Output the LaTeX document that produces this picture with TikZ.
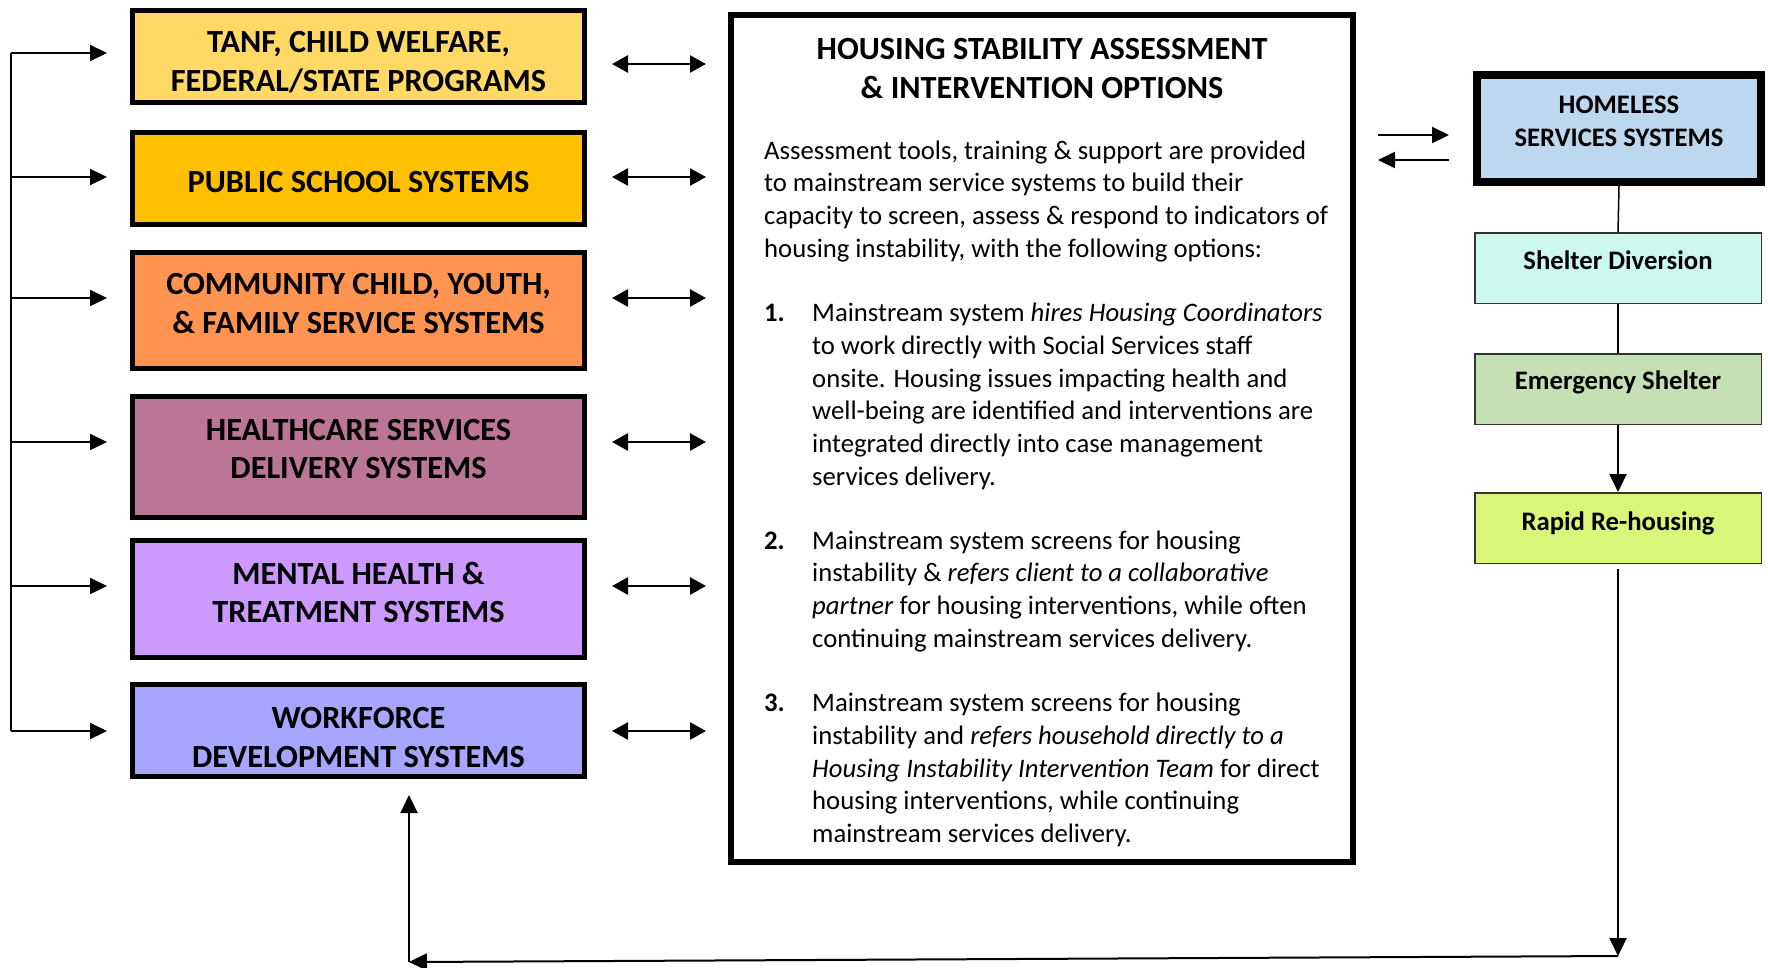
\documentclass[tikz,border=0pt]{standalone}
\usepackage{fontspec}
\setmainfont{Carlito}
\usetikzlibrary{arrows.meta,positioning}

\definecolor{tanfyellow}{HTML}{FFD966}
\definecolor{schoolgold}{HTML}{FFC000}
\definecolor{communityorange}{HTML}{FF9450}
\definecolor{healthmauve}{HTML}{BB7696}
\definecolor{mentallilac}{HTML}{CC99FF}
\definecolor{workforceblue}{HTML}{A6A6FF}
\definecolor{homelessblue}{HTML}{BDD7EE}
\definecolor{diversionmint}{HTML}{CCF8EE}
\definecolor{emergencygreen}{HTML}{C5E0B4}
\definecolor{rapidlime}{HTML}{D9F57A}

\begin{document}
\begin{tikzpicture}[x=1pt, y=-1pt,
  sysbox/.style={draw, line width=5pt, minimum width=452pt, inner sep=0pt},
  systext/.style={inner sep=0pt, align=center, font=\fontsize{32.3}{38.5}\selectfont\bfseries},
  svcbox/.style={draw=black!80, line width=1.5pt, minimum width=286.5pt, minimum height=70.5pt, inner sep=0pt},
  svctext/.style={inner sep=0pt, align=center, font=\fontsize{26.7}{32.7}\selectfont\bfseries},
  bodytext/.style={anchor=north west, inner sep=0pt, align=left, font=\fontsize{26.7}{32.7}\selectfont},
  feed/.style={line width=2.2pt, -{Triangle[length=17pt, width=16pt]}},
  link/.style={line width=2.6pt, {Triangle[length=16pt, width=17pt]}-{Triangle[length=16pt, width=17pt]}},
  flow/.style={line width=2pt, -{Triangle[length=18pt, width=17pt]}}]

  \useasboundingbox (0,0) rectangle (1768,967);

  % mainstream service systems
  \node[sysbox, fill=tanfyellow, minimum height=92pt]       (tanf)      at (358.5, 56.5) {};
  \node[sysbox, fill=schoolgold, minimum height=92pt]       (school)    at (358.5, 178.5) {};
  \node[sysbox, fill=communityorange, minimum height=116pt] (community) at (358.5, 310.5) {};
  \node[sysbox, fill=healthmauve, minimum height=121pt]     (health)    at (358.5, 457) {};
  \node[sysbox, fill=mentallilac, minimum height=117pt]     (mental)    at (358.5, 599) {};
  \node[sysbox, fill=workforceblue, minimum height=92pt]    (workforce) at (358.5, 730.5) {};
  \node[systext] (tanf-text)      at ([yshift=-5.6pt]tanf.center) {TANF, CHILD WELFARE,\\FEDERAL/STATE PROGRAMS};
  \node[systext] (school-text)    at ([yshift=-3.4pt]school.center) {PUBLIC SCHOOL SYSTEMS};
  \node[systext] (community-text) at ([yshift=6.8pt]community.center) {COMMUNITY CHILD, YOUTH,\\\& FAMILY SERVICE SYSTEMS};
  \node[systext] (health-text)    at ([yshift=7.9pt]health.center) {HEALTHCARE SERVICES\\DELIVERY SYSTEMS};
  \node[systext] (mental-text)    at ([yshift=6.8pt]mental.center) {MENTAL HEALTH \&\\TREATMENT SYSTEMS};
  \node[systext] (workforce-text) at ([yshift=-6.8pt]workforce.center) {WORKFORCE\\DEVELOPMENT SYSTEMS};

  % assessment box
  \node[draw, line width=6pt, minimum width=622pt, minimum height=847pt] (assess) at (1042, 438.5) {};
  \node[font=\fontsize{32.3}{39.5}\selectfont\bfseries, align=center, inner sep=0pt] (title) at (1042, 68.5) {HOUSING STABILITY ASSESSMENT\\\& INTERVENTION OPTIONS};
  \node[bodytext] (intro) at (764, 136) {\strut Assessment tools, training \& support are provided\\
    to mainstream service systems to build their\\
    capacity to screen, assess \& respond to indicators of\\
    housing instability, with the following options:};
  \node[bodytext, font=\fontsize{26.7}{32.7}\selectfont\bfseries] (num1) at (764, 298.5) {\strut 1.};
  \node[bodytext] (opt1) at (812, 298.5) {\strut Mainstream system \textit{hires Housing Coordinators}\\
    to work directly with Social Services staff\\
    onsite. Housing issues impacting health and\\
    well-being are identified and interventions are\\
    integrated directly into case management\\
    services delivery.};
  \node[bodytext, font=\fontsize{26.7}{32.7}\selectfont\bfseries] (num2) at (764, 526) {\strut 2.};
  \node[bodytext] (opt2) at (812, 526) {\strut Mainstream system screens for housing\\
    instability \& \textit{refers client to a collaborative}\\
    \textit{partner} for housing interventions, while often\\
    continuing mainstream services delivery.};
  \node[bodytext, font=\fontsize{26.7}{32.7}\selectfont\bfseries] (num3) at (764, 688.7) {\strut 3.};
  \node[bodytext] (opt3) at (812, 688.7) {\strut Mainstream system screens for housing\\
    instability and \textit{refers household directly to a}\\
    \textit{Housing Instability Intervention Team} for direct\\
    housing interventions, while continuing\\
    mainstream services delivery.};

  % homeless services
  \node[draw, line width=8pt, fill=homelessblue, minimum width=284pt, minimum height=107pt, inner sep=0pt] (homeless) at (1619, 128.5) {};
  \node[svcbox, fill=diversionmint]  (diversion) at (1618, 268) {};
  \node[svcbox, fill=emergencygreen] (emergency) at (1618, 389) {};
  \node[svcbox, fill=rapidlime]      (rapid)     at (1618, 528) {};
  \node[svctext] (homeless-text)  at ([yshift=7.3pt]homeless.center) {HOMELESS\\SERVICES SYSTEMS};
  \node[svctext] (diversion-text) at ([yshift=8pt]diversion.center) {Shelter Diversion};
  \node[svctext] (emergency-text) at ([yshift=6.8pt]emergency.center) {Emergency Shelter};
  \node[svctext] (rapid-text)     at ([yshift=4.5pt]rapid.center) {Rapid Re-housing};

  % arrows into mainstream systems
  \coordinate (spinetop) at (11, 53);
  \coordinate (spinebot) at (11, 731);
  \draw[line width=2.2pt] (spinetop) -- (spinebot);
  \foreach \y [count=\i] in {53, 177, 298, 442, 586, 731} {
    \coordinate (feed\i) at (11, \y);
    \coordinate (feedend\i) at (107, \y);
    \draw[feed] (feed\i) -- (feedend\i);
  }

  % links to assessment
  \foreach \y [count=\i] in {64, 177, 298, 442, 586, 731} {
    \coordinate (linkl\i) at (612, \y);
    \coordinate (linkr\i) at (706, \y);
    \draw[link] (linkl\i) -- (linkr\i);
  }

  % assessment <-> homeless services
  \coordinate (swapl1) at (1378, 135);
  \coordinate (swapr1) at (1449, 135);
  \coordinate (swapl2) at (1378, 160);
  \coordinate (swapr2) at (1449, 160);
  \draw[feed] (swapl1) -- (swapr1);
  \draw[feed] (swapr2) -- (swapl2);

  \draw[line width=1.5pt] (homeless.south) -- (diversion.north);
  \draw[line width=1.5pt] (diversion.south) -- (emergency.north);
  \draw[flow] (emergency.south) -- (rapid.north);

  % loop back
  \coordinate (loopstart) at (1618, 569);
  \coordinate (loopcorner) at (1618, 956);
  \coordinate (loopleft) at (409, 962);
  \coordinate (loopend) at (409, 795);
  \draw[flow] (loopstart) -- (loopcorner);
  \draw[flow] (loopcorner) -- (loopleft);
  \draw[flow] (loopleft) -- (loopend);
\end{tikzpicture}
\end{document}
